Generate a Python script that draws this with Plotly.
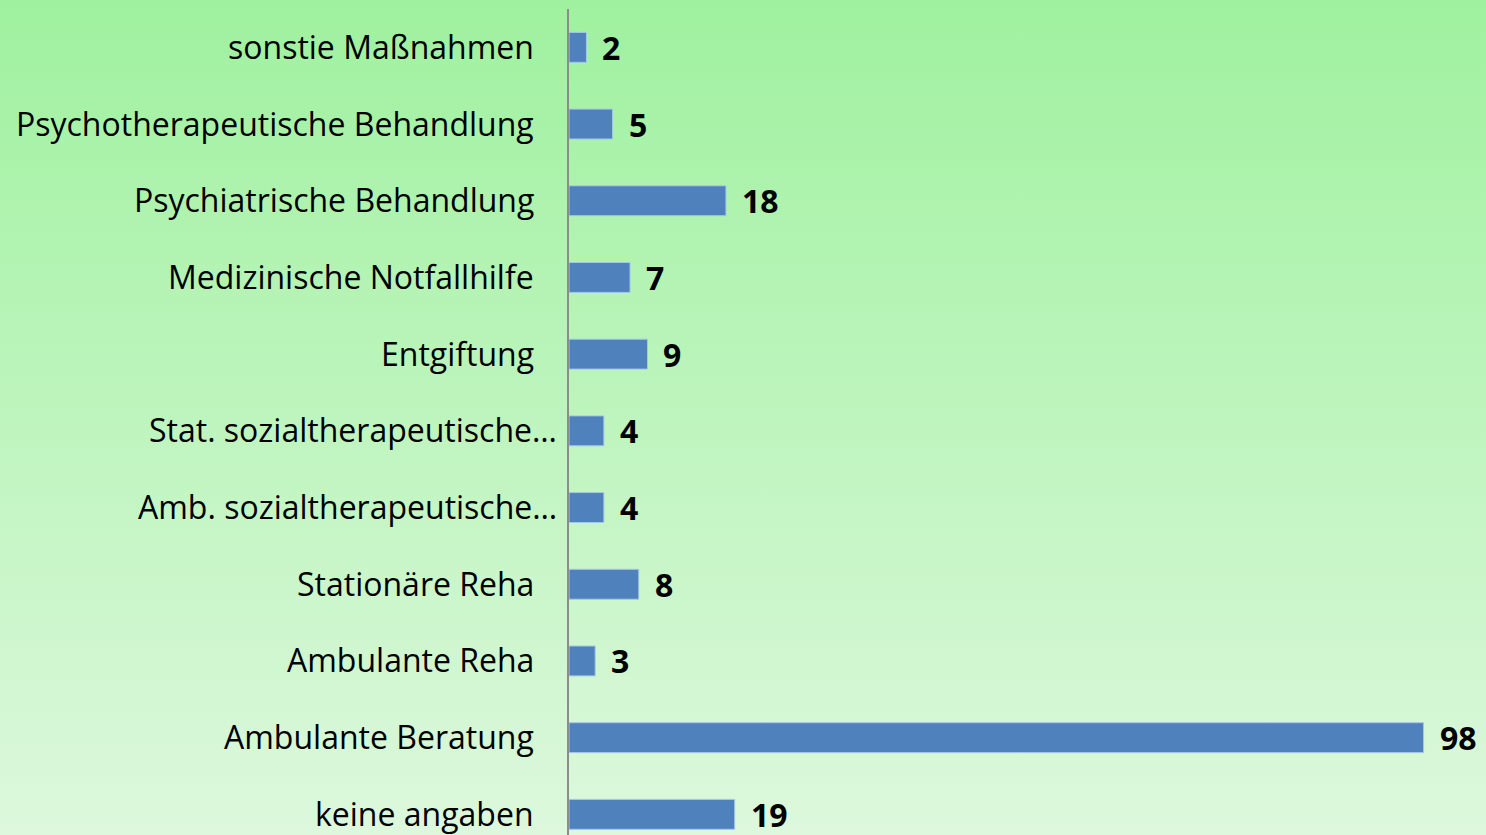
import base64
import plotly.graph_objects as go

categories = [
    "keine angaben",
    "Ambulante Beratung",
    "Ambulante Reha",
    "Stationäre Reha",
    "Amb. sozialtherapeutische…",
    "Stat. sozialtherapeutische…",
    "Entgiftung",
    "Medizinische Notfallhilfe",
    "Psychiatrische Behandlung",
    "Psychotherapeutische Behandlung",
    "sonstie Maßnahmen",
]
values = [19, 98, 3, 8, 4, 4, 9, 7, 18, 5, 2]
truncated = {"Amb. sozialtherapeutische…", "Stat. sozialtherapeutische…"}

W, H = 1486, 835
ML, MR, MT, MB = 569, 0, 9, 0
pw, ph = W - ML - MR, H - MT - MB

svg = (
    f'<svg xmlns="http://www.w3.org/2000/svg" width="{W}" height="{H}" preserveAspectRatio="none">'
    '<defs><linearGradient id="g" x1="0" y1="0" x2="0" y2="1">'
    '<stop offset="0" stop-color="#9ff19f"/>'
    '<stop offset="1" stop-color="#ddf8dd"/>'
    '</linearGradient></defs>'
    f'<rect x="0" y="0" width="{W}" height="{H}" fill="url(#g)"/></svg>'
)
uri = "data:image/svg+xml;base64," + base64.b64encode(svg.encode()).decode()

FONT = "Open Sans"

fig = go.Figure()
fig.add_trace(go.Bar(
    y=categories, x=values, orientation="h",
    marker=dict(color="#4f81bd", line=dict(color="#a9c6e8", width=1)),
    width=0.39, hoverinfo="skip",
))

annotations = []
for c, v in zip(categories, values):
    annotations.append(dict(
        x=v, y=c, xref="x", yref="y", text=f"<b>{v}</b>", showarrow=False,
        xanchor="left", xshift=14, yshift=0,
        font=dict(family=FONT, size=32, color="black"),
    ))
    annotations.append(dict(
        x=0, y=c, xref="x", yref="y", text=c, showarrow=False,
        xanchor="right", xshift=(-10 if c in truncated else -33), yshift=1,
        font=dict(family=FONT, size=32, color="black"),
    ))

fig.update_layout(
    width=W, height=H,
    margin=dict(l=ML, r=MR, t=MT, b=MB, pad=0),
    paper_bgcolor="rgba(0,0,0,0)",
    plot_bgcolor="rgba(0,0,0,0)",
    showlegend=False,
    images=[dict(
        source=uri, xref="paper", yref="paper",
        x=-ML / pw, y=1 + MT / ph, sizex=W / pw, sizey=H / ph,
        xanchor="left", yanchor="top", sizing="stretch", layer="below",
    )],
    annotations=annotations,
    xaxis=dict(range=[0, pw / 8.72], visible=False, fixedrange=True),
    yaxis=dict(
        type="category", categoryorder="array", categoryarray=categories,
        range=[10.5 - ph / 76.7, 10.5], fixedrange=True,
        showticklabels=False, ticks="", showgrid=False, zeroline=False,
        showline=True, linecolor="#8c8c8c", linewidth=2,
    ),
)

fig.write_html(
    "out.html",
    config={"displayModeBar": False, "staticPlot": True},
    post_script="document.body.style.margin='0';document.body.style.overflow='hidden';",
)
